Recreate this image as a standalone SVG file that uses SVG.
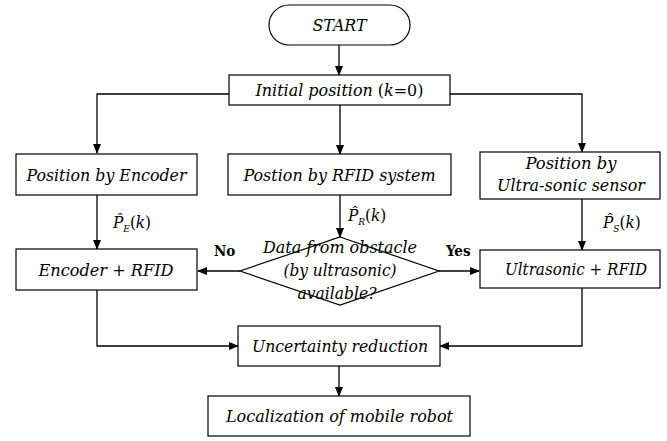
<svg xmlns="http://www.w3.org/2000/svg" width="667" height="441" viewBox="0 0 667 441">
<style>
.box{fill:#fff;stroke:#000;stroke-width:1.2}
.t{font-family:"DejaVu Serif Condensed","DejaVu Serif",serif;font-style:italic;font-size:17px;fill:#000;text-anchor:middle}
.n{font-style:normal}
.lbl{font-family:"DejaVu Serif Condensed","DejaVu Serif",serif;font-size:17px;fill:#000}
.b{font-family:"DejaVu Serif Condensed","DejaVu Serif",serif;font-weight:bold;font-size:15px;fill:#000}
.c{fill:none;stroke:#000;stroke-width:1.3}
</style>
<defs>
<marker id="ah" markerWidth="10" markerHeight="10" refX="9" refY="5" orient="auto" markerUnits="userSpaceOnUse">
<path d="M0,1 L10,5 L0,9 Z" fill="#000"/>
</marker>
</defs>
<rect width="667" height="441" fill="#fff"/>
<g id="connectors">
<path class="c" d="M339,45 V75" marker-end="url(#ah)"/>
<path class="c" d="M229,94 H97 V153" marker-end="url(#ah)"/>
<path class="c" d="M340,105 V154" marker-end="url(#ah)"/>
<path class="c" d="M450,94 H582 V152" marker-end="url(#ah)"/>
<path class="c" d="M97,195 V249" marker-end="url(#ah)"/>
<path class="c" d="M340,195 V237" marker-end="url(#ah)"/>
<path class="c" d="M582,199 V250" marker-end="url(#ah)"/>
<path class="c" d="M240,271 H198" marker-end="url(#ah)"/>
<path class="c" d="M439,271 H479" marker-end="url(#ah)"/>
<path class="c" d="M97,290 V346 H238" marker-end="url(#ah)"/>
<path class="c" d="M582,288 V346 H440" marker-end="url(#ah)"/>
<path class="c" d="M339,366 V396" marker-end="url(#ah)"/>
</g>
<g id="start">
<rect class="box" x="269" y="5" width="141" height="40" rx="20" ry="20"/>
<text class="t" x="339.5" y="31" textLength="54" lengthAdjust="spacingAndGlyphs">START</text>
</g>
<g id="init">
<rect class="box" x="229" y="75" width="221" height="30"/>
<text class="t" x="339.5" y="96" textLength="168" lengthAdjust="spacingAndGlyphs">Initial position <tspan class="n">(</tspan>k<tspan class="n">=0)</tspan></text>
</g>
<g id="encoder">
<rect class="box" x="16" y="154" width="181" height="41"/>
<text class="t" x="106.5" y="181" textLength="160" lengthAdjust="spacingAndGlyphs">Position by Encoder</text>
</g>
<g id="rfid">
<rect class="box" x="228" y="154" width="223" height="41"/>
<text class="t" x="339.5" y="181" textLength="192" lengthAdjust="spacingAndGlyphs">Postion by RFID system</text>
</g>
<g id="ultra">
<rect class="box" x="480" y="152" width="180" height="47"/>
<text class="t" x="571" y="169" textLength="91" lengthAdjust="spacingAndGlyphs">Position by</text>
<text class="t" x="571" y="191" textLength="148" lengthAdjust="spacingAndGlyphs">Ultra-sonic sensor</text>
</g>
<g id="decision">
<polygon points="340,237 439,271 340,305 240,271" style="fill:none;stroke:#000;stroke-width:1.2"/>
<text class="t" x="340" y="253" textLength="154" lengthAdjust="spacingAndGlyphs">Data from obstacle</text>
<text class="t" x="340" y="276" textLength="113" lengthAdjust="spacingAndGlyphs">(by ultrasonic)</text>
<text class="t" x="337" y="299" textLength="79" lengthAdjust="spacingAndGlyphs">available?</text>
</g>
<g id="encrfid">
<rect class="box" x="16" y="249" width="181" height="41"/>
<text class="t" x="106" y="276" textLength="135" lengthAdjust="spacingAndGlyphs">Encoder <tspan class="n">+</tspan> RFID</text>
</g>
<g id="usrfid">
<rect class="box" x="480" y="250" width="180" height="38"/>
<text class="t" x="576" y="275" textLength="142" lengthAdjust="spacingAndGlyphs">Ultrasonic <tspan class="n">+</tspan> RFID</text>
</g>
<g id="uncert">
<rect class="box" x="238" y="326" width="202" height="40"/>
<text class="t" x="340" y="352" textLength="176" lengthAdjust="spacingAndGlyphs">Uncertainty reduction</text>
</g>
<g id="local">
<rect class="box" x="208" y="396" width="262" height="40"/>
<text class="t" x="339.5" y="422" textLength="227" lengthAdjust="spacingAndGlyphs">Localization of mobile robot</text>
</g>
<g id="labels">
<text class="lbl" x="113" y="228"><tspan font-style="italic">P̂</tspan><tspan font-size="10" font-style="italic" dy="4">E</tspan><tspan dy="-4">(</tspan><tspan font-style="italic">k</tspan>)</text>
<text class="lbl" x="348" y="221"><tspan font-style="italic">P̂</tspan><tspan font-size="10" font-style="italic" dy="4">R</tspan><tspan dy="-4">(</tspan><tspan font-style="italic">k</tspan>)</text>
<text class="lbl" x="603" y="228"><tspan font-style="italic">P̂</tspan><tspan font-size="10" font-style="italic" dy="4">S</tspan><tspan dy="-4">(</tspan><tspan font-style="italic">k</tspan>)</text>
<text class="b" x="214" y="256">No</text>
<text class="b" x="446" y="256">Yes</text>
</g>
</svg>
